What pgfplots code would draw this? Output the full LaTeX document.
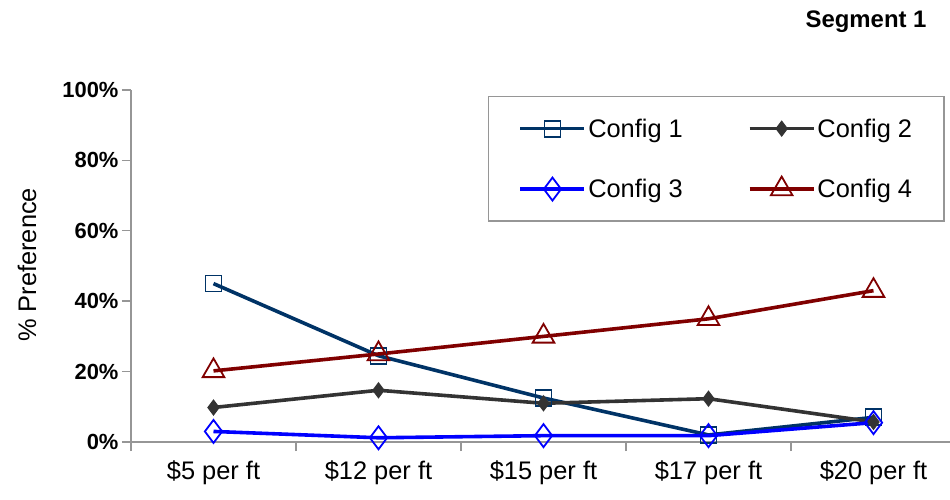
\documentclass[border=0pt]{standalone}
\usepackage{pgfplots}
\pgfplotsset{compat=1.18}
\usepackage{fontspec}
\setmainfont{Liberation Sans}
\definecolor{cA}{RGB}{0,51,102}
\definecolor{cB}{RGB}{51,51,51}
\definecolor{cC}{RGB}{0,0,255}
\definecolor{cD}{RGB}{128,0,0}
\definecolor{axg}{RGB}{150,150,150}
\begin{document}
\begin{tikzpicture}
\path[use as bounding box] (-131bp,-58bp) rectangle (819bp,442bp);
\clip (-131bp,-58bp) rectangle (819bp,442bp);
\begin{axis}[
  at={(0,0)}, anchor=south west,
  scale only axis, width=825bp, height=352bp,
  xmin=-0.5, xmax=4.5, ymin=0, ymax=100,
  axis x line=bottom, axis y line=left,
  axis line style={-, draw=axg, line width=1.4bp},
  tick style={draw=axg, line width=1.4bp},
  tick align=outside, major tick length=9bp,
  xtick={-0.5,0.5,1.5,2.5,3.5,4.5},
  x tick label as interval,
  xticklabels={\$5 per ft,\$12 per ft,\$15 per ft,\$17 per ft,\$20 per ft},
  x tick label style={font=\fontsize{25.5}{30}\selectfont, yshift=-6bp},
  ytick={0,20,40,60,80,100},
  yticklabels={0\%,20\%,40\%,60\%,80\%,100\%},
  y tick label style={font=\bfseries\fontsize{22}{26}\selectfont},
  ylabel={\% Preference},
  ylabel style={font=\fontsize{25.5}{30}\selectfont, at={(axis description cs:-0.126,0.503)}, rotate=0, anchor=center},
  clip=false,
  legend columns=2,
  legend style={at={(axis description cs:0.4327,0.983)}, anchor=north west,
    draw=axg, line width=1.4bp, font=\fontsize{25.5}{30}\selectfont,
    inner xsep=30bp, inner ysep=20bp, row sep=36bp,
    /tikz/every even column/.append style={column sep=63bp},
    legend cell align=left},
  legend image code/.code={\draw[mark repeat=2,mark phase=2] plot coordinates {(0bp,0bp) (32bp,0bp) (64bp,0bp)};},
]
\addplot[cA, line width=3.6bp, mark=square, mark size=8bp, mark options={fill=white, line width=1.8bp}] coordinates {(0,45) (1,24.5) (2,12.5) (3,2) (4,7)};
\addlegendentry{Config 1}
\addplot[cB, line width=3.6bp, mark=diamond*, mark size=7.5bp, mark options={fill=cB, line width=1bp}] coordinates {(0,9.8) (1,14.7) (2,11) (3,12.3) (4,5.7)};
\addlegendentry{Config 2}
\addplot[cC, line width=3.6bp, mark=diamond, mark size=11.5bp, mark options={fill=white, line width=1.8bp}] coordinates {(0,3) (1,1.2) (2,1.8) (3,1.8) (4,5.5)};
\addlegendentry{Config 3}
\addplot[cD, line width=3.6bp, mark=triangle, mark size=12.5bp, mark options={fill=white, line width=1.8bp}] coordinates {(0,20.2) (1,25) (2,30) (3,35) (4,43)};
\addlegendentry{Config 4}
\node[font=\bfseries\fontsize{24}{28}\selectfont, anchor=center] at (axis description cs:0.891,1.193) {Segment 1};
\end{axis}
\end{tikzpicture}
\end{document}
